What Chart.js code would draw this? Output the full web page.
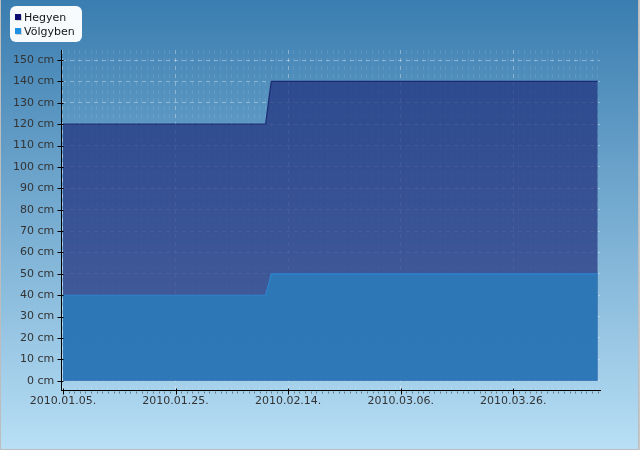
<!DOCTYPE html>
<html><head><meta charset="utf-8">
<script src="https://cdn.jsdelivr.net/npm/chart.js@4"></script>
<style>html,body{margin:0;padding:0;background:#fff;}#wrap{width:640px;height:450px;position:relative;}</style>
</head><body><div id="wrap"><canvas id="c" width="640" height="450"></canvas></div>
<script>
// ---- data ----
const seriesNames = ['Hegyen', 'Völgyben'];
const dates = ['2010-01-05', '2010-02-10', '2010-02-11', '2010-04-10'];
const hegyenValues = [120, 120, 140, 140];
const volgybenValues = [40, 40, 50, 50];
const xTickDates = ['2010-01-05', '2010-01-25', '2010-02-14', '2010-03-06', '2010-03-26'];
const yTickValues = [0, 10, 20, 30, 40, 50, 60, 70, 80, 90, 100, 110, 120, 130, 140, 150];
const yUnit = ' cm';

// ---- helpers ----
const baseUTC = Date.UTC(2010, 0, 5);
function dayOf(s) { const p = s.split('-').map(Number); return (Date.UTC(p[0], p[1] - 1, p[2]) - baseUTC) / 86400000; }
function fmtDay(v) {
  const d = new Date(baseUTC + v * 86400000);
  const mm = String(d.getUTCMonth() + 1).padStart(2, '0'), dd = String(d.getUTCDate()).padStart(2, '0');
  return d.getUTCFullYear() + '.' + mm + '.' + dd + '.';
}
const majorDays = xTickDates.map(dayOf);
const majorSet = new Set(majorDays);
const lastDay = dayOf(dates[dates.length - 1]);
const allDays = [];
for (let i = 0; i <= lastDay; i++) allDays.push(i);

const FONT = 'DejaVu Sans';

const deco = {
  id: 'deco',
  beforeDraw(chart) {
    const ctx = chart.ctx, W = chart.width, H = chart.height;
    ctx.save();
    const g = ctx.createLinearGradient(0, 0, 0, H);
    g.addColorStop(0, '#3a7db0');
    g.addColorStop(1, '#b8dff5');
    ctx.fillStyle = g;
    ctx.fillRect(0, 0, W, H);
    ctx.strokeStyle = '#bdbdbd';
    ctx.lineWidth = 1;
    ctx.beginPath();
    ctx.moveTo(0.5, 0); ctx.lineTo(0.5, H - 0.5); ctx.lineTo(W - 1.5, H - 0.5); ctx.lineTo(W - 1.5, 0);
    ctx.stroke();
    ctx.fillStyle = '#c8c8c8';
    ctx.fillRect(W - 1, 0, 1, H);
    ctx.restore();
  },
  afterDraw(chart) {
    const ctx = chart.ctx;
    const xs = chart.scales.x, ys = chart.scales.y;
    ctx.save();
    ctx.strokeStyle = '#000';
    ctx.lineWidth = 1;
    ctx.beginPath();
    const ax = Math.round(xs.left) - 0.5;
    ys.ticks.forEach(t => {
      const y = Math.round(ys.getPixelForValue(t.value)) + 0.5;
      ctx.moveTo(ax - 3, y); ctx.lineTo(ax + 3, y);
    });
    const ay = Math.round(ys.bottom) + 0.5;
    majorDays.forEach(v => {
      const x = Math.round(xs.getPixelForValue(v)) + 0.5;
      ctx.moveTo(x, ay - 3); ctx.lineTo(x, ay + 3);
    });
    ctx.stroke();
    ctx.strokeStyle = 'rgba(60,60,60,0.6)';
    ctx.beginPath();
    allDays.forEach(v => {
      if (majorSet.has(v)) return;
      const x = Math.round(xs.getPixelForValue(v)) + 0.5;
      ctx.moveTo(x, ay); ctx.lineTo(x, ay + 2);
    });
    ctx.stroke();

    // legend
    ctx.fillStyle = '#f8fbfe';
    ctx.beginPath();
    ctx.roundRect(10, 6, 72, 36, 6);
    ctx.fill();
    const colors = ['#0e0e6e', '#1f90e2'];
    ctx.font = '11px "' + FONT + '"';
    ctx.textBaseline = 'alphabetic';
    seriesNames.forEach((n, i) => {
      const y = 14 + i * 14;
      ctx.fillStyle = 'rgba(0,0,0,0.15)';
      ctx.fillRect(16, y + 1, 6, 6);
      ctx.fillStyle = colors[i];
      ctx.fillRect(15, y, 6, 6);
      ctx.fillStyle = '#151515';
      ctx.fillText(n, 24, y + 6.5);
    });
    ctx.restore();
  }
};

const xs = dates.map(dayOf);
new Chart(document.getElementById('c'), {
  type: 'line',
  data: {
    datasets: [
      {
        label: seriesNames[0],
        data: xs.map((x, i) => ({ x: x, y: hegyenValues[i] })),
        borderColor: '#1c2a74',
        backgroundColor: 'rgba(30,45,122,0.70)',
        borderWidth: 1.2,
        fill: 'origin',
        pointRadius: 0,
        tension: 0,
        order: 2
      },
      {
        label: seriesNames[1],
        data: xs.map((x, i) => ({ x: x, y: volgybenValues[i] })),
        borderColor: '#2c84cf',
        backgroundColor: 'rgba(42,124,188,0.85)',
        borderWidth: 1.2,
        fill: 'origin',
        pointRadius: 0,
        tension: 0,
        order: 1
      }
    ]
  },
  options: {
    responsive: false,
    animation: false,
    devicePixelRatio: 1,
    layout: { padding: { left: 6, top: 50, right: 40, bottom: 38 } },
    plugins: { legend: { display: false }, tooltip: { enabled: false } },
    scales: {
      x: {
        type: 'linear',
        min: -0.3,
        max: 95.4,
        afterBuildTicks: s => { s.ticks = allDays.map(v => ({ value: v })); },
        ticks: {
          autoSkip: false, maxRotation: 0, minRotation: 0, padding: 4,
          color: '#333', font: { family: FONT, size: 11 },
          callback: v => majorSet.has(v) ? fmtDay(v) : ''
        },
        grid: {
          drawTicks: false,
          color: c => (c.tick && majorSet.has(c.tick.value)) ? 'rgba(255,255,255,0.35)' : 'rgba(255,255,255,0.10)'
        },
        border: { color: '#000', width: 1, dash: [4, 4] }
      },
      y: {
        min: -4.7,
        max: 154.7,
        afterBuildTicks: s => { s.ticks = yTickValues.map(v => ({ value: v })); },
        ticks: { padding: 7, color: '#333', font: { family: FONT, size: 11 }, callback: v => v + yUnit },
        grid: { drawTicks: false, color: 'rgba(255,255,255,0.35)' },
        border: { color: '#000', width: 1, dash: [4, 4] }
      }
    }
  },
  plugins: [deco]
});
</script>
</body></html>
